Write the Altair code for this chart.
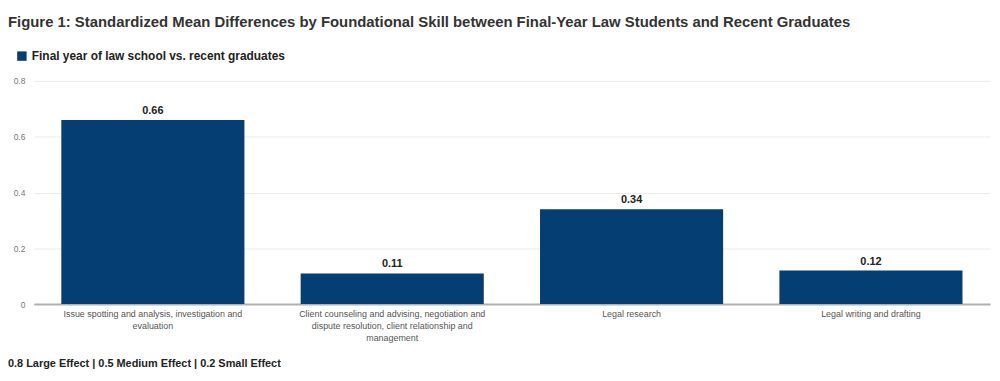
import altair as alt
import pandas as pd

skills = [
    "Issue spotting and analysis, investigation and|evaluation",
    "Client counseling and advising, negotiation and|dispute resolution, client relationship and|management",
    "Legal research",
    "Legal writing and drafting",
]
values = [0.66, 0.11, 0.34, 0.12]
labels = ["0.66", "0.11", "0.34", "0.12"]
series_name = "Final year of law school vs. recent graduates"
y_ticks = [0, 0.2, 0.4, 0.6, 0.8]
title_text = "Figure 1: Standardized Mean Differences by Foundational Skill between Final-Year Law Students and Recent Graduates"
footer_text = "0.8 Large Effect | 0.5 Medium Effect | 0.2 Small Effect"

df = pd.DataFrame({"skill": skills, "value": values, "label": labels, "series": series_name})
FONT = "Liberation Sans"

x = alt.X("skill:N", sort=skills, title=None,
          scale=alt.Scale(paddingInner=0.235, paddingOuter=0.115),
          axis=alt.Axis(labelAngle=0, labelExpr="split(datum.label, '|')",
                        labelFontSize=9, labelColor="#555555", labelFont=FONT,
                        labelLineHeight=12, labelPadding=6, ticks=False,
                        domainColor="#b0b0b0", domainWidth=2, labelLimit=300))
y = alt.Y("value:Q", title=None,
          scale=alt.Scale(domain=[0, 0.8]),
          axis=alt.Axis(values=y_ticks, labelFontSize=8.5, labelColor="#777777", labelFont=FONT,
                        domain=False, ticks=False, gridColor="#ebebeb", labelPadding=9,
                        labelExpr="datum.value == 0 ? '0' : format(datum.value, '.1f')"))

bars = alt.Chart(df).mark_bar(color="#053e72").encode(
    x=x, y=y,
    color=alt.Color("series:N", scale=alt.Scale(range=["#053e72"]), title=None,
                    legend=alt.Legend(orient="none", legendX=-18, legendY=-31,
                                      symbolType="square", symbolSize=90,
                                      symbolStrokeWidth=0, labelFont=FONT,
                                      labelFontSize=12, labelFontWeight="bold",
                                      labelColor="#222222", labelLimit=400)),
)
text = alt.Chart(df).mark_text(dy=-9, fontSize=11, fontWeight="bold", font=FONT,
                               color="#222222").encode(x=alt.X("skill:N", sort=skills), y="value:Q", text="label:N")
footer = alt.Chart(pd.DataFrame({"t": [footer_text]})).mark_text(
    align="left", baseline="middle", fontSize=11, fontWeight="bold", font=FONT, color="#222222"
).encode(x=alt.value(-26), y=alt.value(285), text="t:N")

chart = alt.layer(bars, text, footer).properties(
    width=964, height=225,
    autosize=alt.AutoSizeParams(type="none"),
    padding={"left": 26, "top": 72, "right": 2, "bottom": 72},
    title=alt.Title(title_text, anchor="start", frame="group", dx=-26, font=FONT,
                    fontSize=15, fontWeight="bold", color="#333333", offset=20),
).configure_view(stroke=None)

chart.save("out.html", embed_options={"renderer": "svg", "actions": False})
